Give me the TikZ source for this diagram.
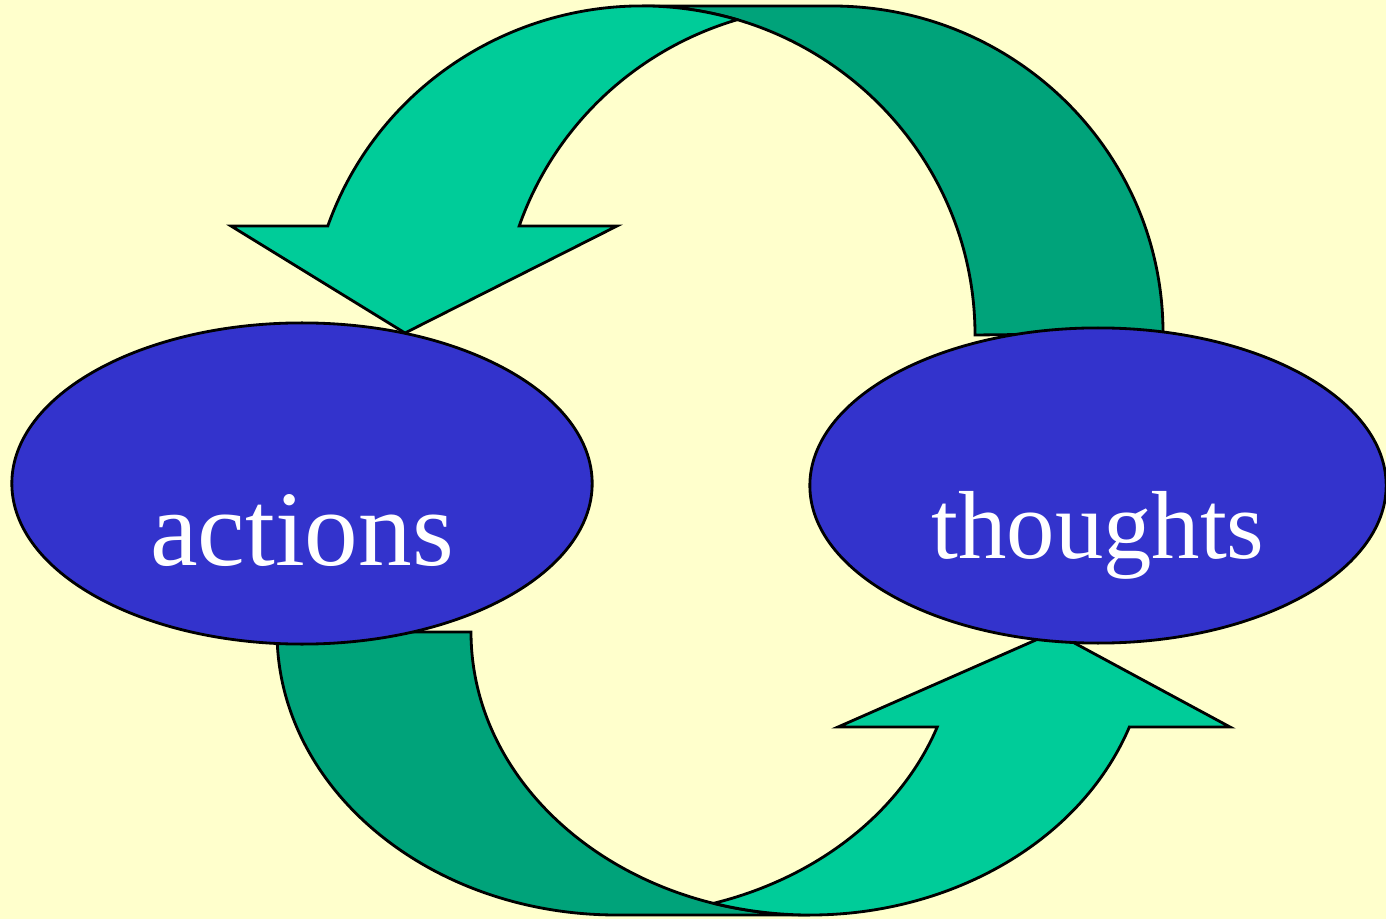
\documentclass[tikz,border=0pt]{standalone}
\usepackage{fontspec}
\setmainfont{Liberation Serif}
\usetikzlibrary{shapes.geometric}
\definecolor{paper}{HTML}{FFFFCC}
\definecolor{bubbleblue}{HTML}{3333CC}
\definecolor{banddark}{HTML}{00A37A}
\definecolor{bandlight}{HTML}{00CC99}
\begin{document}
\begin{tikzpicture}[x=0.01cm,y=-0.01cm,line width=0.8pt,
  band/.style={draw=black,line join=miter},
  bubble/.style={ellipse,draw=black,fill=bubbleblue,text=white,inner sep=0pt,text depth=0pt}]
  \useasboundingbox (0,0) rectangle (1386,919);
  \fill[paper] (0,0) rectangle (1386,919);
  \draw[band,fill=banddark] (642,6) -- (832,6)
    arc[start angle=-90,end angle=0,x radius=331,y radius=327] -- (975,335)
    arc[start angle=0,end angle=-90,x radius=333,y radius=329] -- cycle;
  \draw[band,fill=bandlight] (737.1,19.7)
    arc[start angle=-73.4,end angle=-160.65,x radius=333,y radius=329]
    -- (231,226) -- (405,333) -- (617,226) -- (519.2,226)
    arc[start angle=-160.9,end angle=-106.66,x radius=331,y radius=327] -- cycle;
  \draw[band,fill=banddark] (277,632)
    arc[start angle=180,end angle=90,x radius=340,y radius=283] -- (810,915)
    arc[start angle=90,end angle=180,x radius=339,y radius=283] -- cycle;
  \draw[band,fill=bandlight] (713.6,903.3)
    arc[start angle=73.49,end angle=19.6,x radius=340,y radius=283]
    -- (838,727) -- (1054,632) -- (1230,727) -- (1129.4,726.9)
    arc[start angle=19.6,end angle=106.52,x radius=339,y radius=283] -- cycle;
  \node[bubble,minimum width=5.8cm,minimum height=3.21cm,text height=1.63cm,
    font=\fontsize{30.5}{36}\selectfont] (actions) at (302,483.5) {actions};
  \node[bubble,minimum width=5.76cm,minimum height=3.15cm,text height=1.46cm,
    font=\fontsize{27.5}{32}\selectfont] (thoughts) at (1098,485.5) {thoughts};
\end{tikzpicture}
\end{document}
